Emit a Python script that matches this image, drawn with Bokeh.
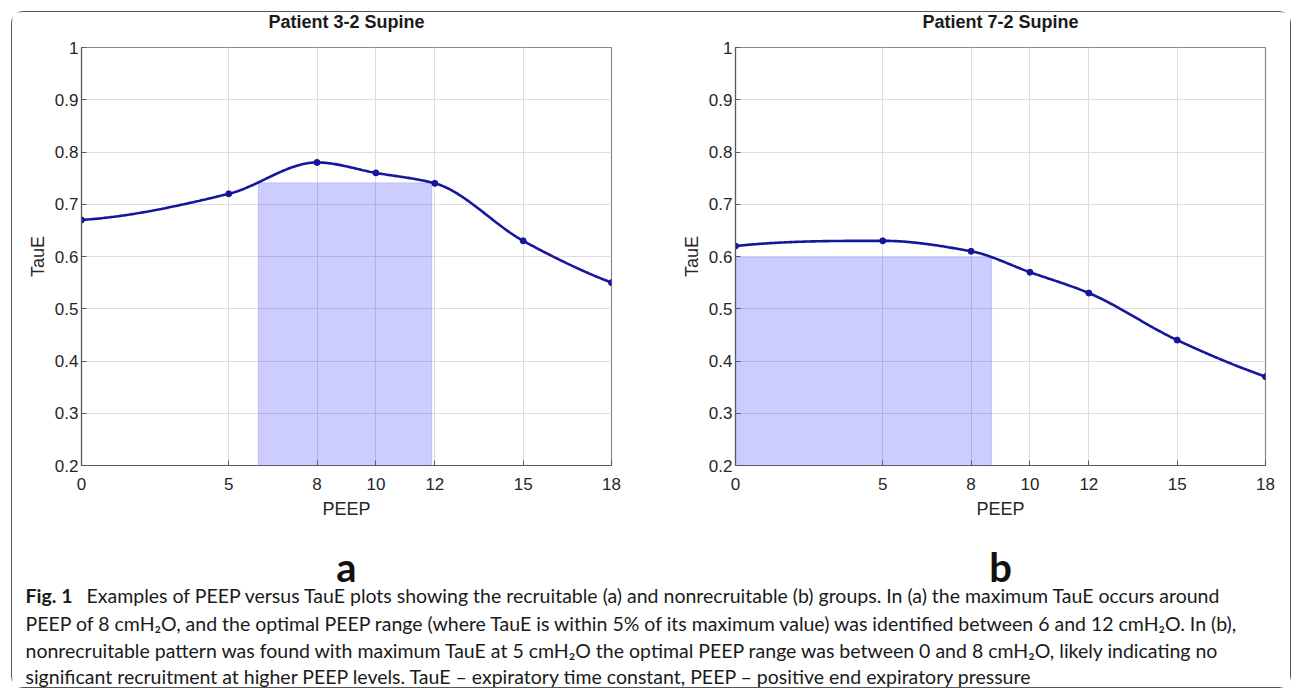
import numpy as np
from bokeh.plotting import figure
from bokeh.layouts import column, row
from bokeh.models import Range1d, FixedTicker, CustomJSTickFormatter
from bokeh.core.properties import value
from bokeh.embed import file_html
from bokeh.resources import INLINE

# ---------------- data ----------------
peep = [0, 5, 8, 10, 12, 15, 18]
taue_a = [0.67, 0.72, 0.78, 0.76, 0.74, 0.63, 0.55]
taue_b = [0.62, 0.63, 0.61, 0.57, 0.53, 0.44, 0.37]
# optimal PEEP range (within 5% of max TauE): [left, right, top]
range_a = [6.0, 11.9, 0.741]
range_b = [0.0, 8.7, 0.599]
titles = ["Patient 3-2 Supine", "Patient 7-2 Supine"]
panel_letters = ["a", "b"]
x_ticks = [0, 5, 8, 10, 12, 15, 18]
y_ticks = [0.2, 0.3, 0.4, 0.5, 0.6, 0.7, 0.8, 0.9, 1.0]

caption_bold = "Fig. 1"
caption_lines = [
    "Examples of PEEP versus TauE plots showing the recruitable (a) and nonrecruitable (b) groups. In (a) the maximum TauE occurs around",
    "PEEP of 8 cmH\u2082O, and the optimal PEEP range (where TauE is within 5% of its maximum value) was identified between 6 and 12 cmH\u2082O. In (b),",
    "nonrecruitable pattern was found with maximum TauE at 5 cmH\u2082O the optimal PEEP range was between 0 and 8 cmH\u2082O, likely indicating no",
    "significant recruitment at higher PEEP levels. TauE \u2013 expiratory time constant, PEEP \u2013 positive end expiratory pressure",
]

LINE_COLOR = "#16169c"
AX_COLOR = "#5a5a5a"
TICK_FONT = "Liberation Sans"
TOTAL_W = 1278


def pchip(x, y, xs):
    """Shape-preserving piecewise cubic Hermite curve through the data (as MATLAB pchip)."""
    x = np.asarray(x, float)
    y = np.asarray(y, float)
    h = np.diff(x)
    delta = np.diff(y) / h
    n = len(x)
    d = np.zeros(n)
    for k in range(1, n - 1):
        if delta[k - 1] * delta[k] > 0:
            w1 = 2 * h[k] + h[k - 1]
            w2 = h[k] + 2 * h[k - 1]
            d[k] = (w1 + w2) / (w1 / delta[k - 1] + w2 / delta[k])

    def end_slope(h0, h1, d0, d1):
        s = ((2 * h0 + h1) * d0 - h0 * d1) / (h0 + h1)
        if np.sign(s) != np.sign(d0):
            s = 0.0
        elif np.sign(d0) != np.sign(d1) and abs(s) > abs(3 * d0):
            s = 3 * d0
        return s

    d[0] = end_slope(h[0], h[1], delta[0], delta[1])
    d[-1] = end_slope(h[-1], h[-2], delta[-1], delta[-2])
    xs = np.asarray(xs, float)
    idx = np.clip(np.searchsorted(x, xs) - 1, 0, n - 2)
    t = (xs - x[idx]) / h[idx]
    h00 = 2 * t**3 - 3 * t**2 + 1
    h10 = t**3 - 2 * t**2 + t
    h01 = -2 * t**3 + 3 * t**2
    h11 = t**3 - t**2
    return h00 * y[idx] + h10 * h[idx] * d[idx] + h01 * y[idx + 1] + h11 * h[idx] * d[idx + 1]


def text_strip(height):
    f = figure(width=TOTAL_W, height=height, output_backend="svg", toolbar_location=None,
               title=None, x_range=Range1d(0, TOTAL_W), y_range=Range1d(height, 0), min_border=0,
               background_fill_color="white", border_fill_color="white")
    f.axis.visible = False
    f.grid.visible = False
    f.outline_line_color = None
    return f


def panel(xs, ys, rng, width, bl, br):
    p = figure(width=width, height=500, output_backend="svg", toolbar_location=None, title=None,
               x_range=Range1d(0, 18), y_range=Range1d(0.2, 1.0),
               min_border_left=bl, min_border_right=br, min_border_top=10, min_border_bottom=72,
               background_fill_color="white", border_fill_color="white")
    p.outline_line_color = "#8a8a8a"
    p.outline_line_width = 1.2
    p.xgrid.ticker = FixedTicker(ticks=x_ticks)
    p.ygrid.ticker = FixedTicker(ticks=y_ticks)
    p.grid.grid_line_color = "#dedede"
    p.grid.grid_line_width = 1
    p.xaxis.ticker = FixedTicker(ticks=x_ticks)
    p.yaxis.ticker = FixedTicker(ticks=y_ticks)
    p.yaxis.formatter = CustomJSTickFormatter(code="return Math.abs(tick-1)<1e-9 ? '1' : tick.toFixed(1);")
    for ax in (p.xaxis[0], p.yaxis[0]):
        ax.axis_line_color = AX_COLOR
        ax.axis_line_width = 1.2
        ax.major_tick_in = 5
        ax.major_tick_out = 0
        ax.minor_tick_line_color = None
        ax.major_tick_line_color = AX_COLOR
        ax.major_label_text_font = TICK_FONT
        ax.major_label_text_font_size = "17px"
        ax.major_label_text_color = "#262626"
        ax.axis_label_text_font = TICK_FONT
        ax.axis_label_text_font_size = "18px"
        ax.axis_label_text_font_style = "normal"
        ax.axis_label_text_color = "#262626"
    p.xaxis.axis_label = "PEEP"
    p.yaxis.axis_label = "TauE"
    p.xaxis.major_label_standoff = 12
    p.xaxis.axis_label_standoff = 6
    p.yaxis.major_label_standoff = 3
    p.yaxis.axis_label_standoff = 4

    p.quad(left=[rng[0]], right=[rng[1]], bottom=[0.2], top=[rng[2]],
           fill_color="#0000ff", fill_alpha=0.2, line_color="#0000ff", line_alpha=0.12)
    xf = np.linspace(min(xs), max(xs), 400)
    p.line(xf, pchip(xs, ys, xf), line_color=LINE_COLOR, line_width=2.6)
    p.scatter(xs, ys, size=6, fill_color=LINE_COLOR, line_color=LINE_COLOR)
    return p


# titles strip
top = text_strip(25)
top.text(x=[334, 988], y=[9.5, 9.5], text=titles, text_align="center", text_baseline="middle",
         text_font=value("Liberation Sans"), text_font_size="18px", text_font_style="bold",
         text_color="#1a1a1a")

p1 = panel(peep, taue_a, range_a, 660, 69, 61)
p2 = panel(peep, taue_b, range_b, 618, 63, 25)

# caption strip
cap = text_strip(150)
cap.text(x=[334, 988], y=[29, 29], text=panel_letters, text_align="center",
         text_baseline="alphabetic", text_font=value("Lato"), text_font_size="40px",
         text_font_style="bold", text_color="#111111")
cap.text(x=[13], y=[58], text=[caption_bold], text_baseline="alphabetic",
         text_font=value("Lato"), text_font_size="19.5px", text_font_style="bold", text_color="#1a1a1a")
cap.text(x=[74, 13, 13, 13], y=[58, 85.5, 113, 138.5], text=caption_lines,
         text_baseline="alphabetic", text_font=value("Lato"), text_font_size="19.5px",
         text_color="#1a1a1a")

layout = column(top, row(p1, p2), cap,
                styles={"border": "1.5px solid #555", "border-radius": "12px",
                        "margin-left": "11px", "margin-top": "11px"})

open("out.html", "w").write(file_html(layout, INLINE))
